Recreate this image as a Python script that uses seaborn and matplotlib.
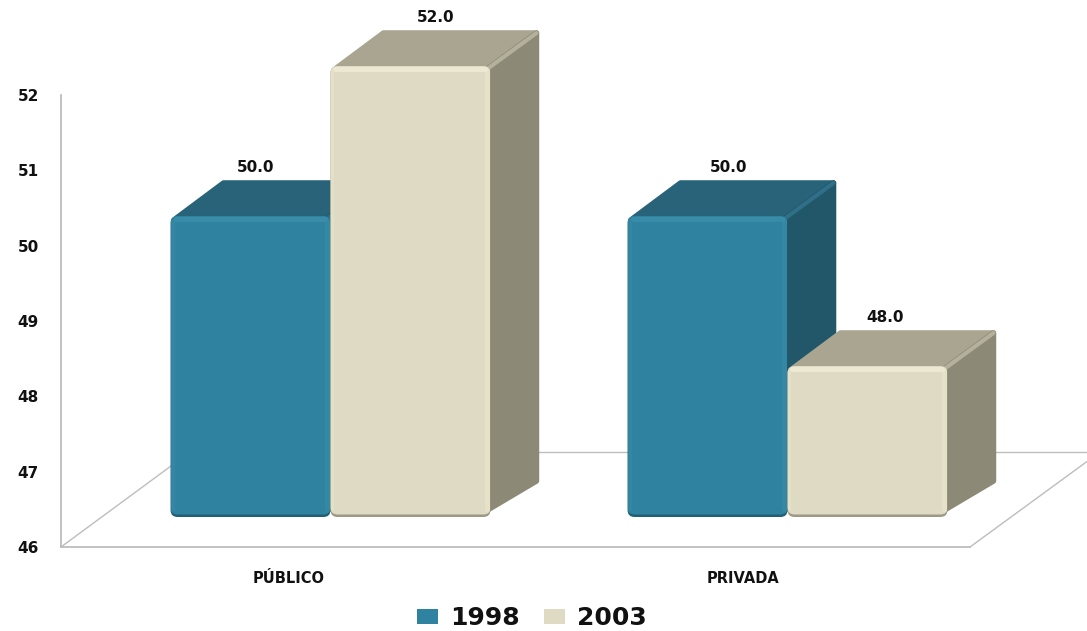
import pandas as pd
import matplotlib
matplotlib.use("Agg")
import matplotlib.pyplot as plt
import seaborn as sns
from matplotlib.patches import Polygon, FancyBboxPatch
from matplotlib.lines import Line2D
from matplotlib.transforms import IdentityTransform

# Values
categories = ["PÚBLICO", "PRIVADA"]
years = ["1998", "2003"]
values_1998 = [50.0, 50.0]
values_2003 = [52.0, 48.0]
y_ticks = [46, 47, 48, 49, 50, 51, 52]

W, H = 1087, 631
BASE = 46
DX, DY = 49, 36  # depth of the fake 3D boxes, in pixels

df = pd.DataFrame({
    "sector": categories * 2,
    "year": [years[0]] * 2 + [years[1]] * 2,
    "value": values_1998 + values_2003,
})

sns.set_theme(style="white")
plt.rcParams["font.family"] = ["DejaVu Sans"]

fig = plt.figure(figsize=(W / 100, H / 100), dpi=100, facecolor="white")


def box(x0, y_top, x1, y_bottom):
    return [x0 / W, 1 - y_bottom / H, (x1 - x0) / W, (y_bottom - y_top) / H]


# Back axes: the wall line, floor line and tick labels
wall = fig.add_axes(box(61, 95, 970, 547))
wall.set_xlim(-0.5, 1.5)
wall.set_ylim(46, 52)
wall.set_yticks(y_ticks)
wall.set_xticks(range(len(categories)))
wall.set_xticklabels(categories, fontsize=10.5, fontweight="bold", color="#111111")
wall.set_yticklabels(y_ticks, fontsize=11, fontweight="bold", color="#111111")
wall.tick_params(axis="y", length=0, pad=16)
wall.tick_params(axis="x", length=0, pad=17)
sns.despine(ax=wall)
for side in ["left", "bottom"]:
    wall.spines[side].set_color("#b8b8b8")
    wall.spines[side].set_linewidth(1.2)
wall.set_facecolor("none")

# Floor lines going into the page
floor = [
    ([61, 190], [547, 452]),
    ([970, 1100], [547, 452]),
    ([190, 1087], [452, 452]),
]
for xs, ys in floor:
    fig.add_artist(Line2D([x / W for x in xs], [1 - y / H for y in ys],
                          color="#bdbdbd", lw=1.0, zorder=0.5))

# Front axes: the bars themselves
ax = fig.add_axes([0, 0, 1, 1], zorder=2)
ax.set_facecolor("none")
sns.barplot(data=df, x="sector", y="value", hue="year", order=categories,
            hue_order=years, palette=["#2f83a0", "#dfdac3"], width=0.7, gap=0,
            saturation=1, ax=ax, edgecolor="none", linewidth=0)
ax.set_xlim(-330.5 / 457, (W - 330.5) / 457)
ax.set_ylim(BASE - (H - 516) / 75, BASE + 516 / 75)
ax.set_xlabel("")
ax.set_ylabel("")
for s in ax.spines.values():
    s.set_visible(False)
ax.set_xticks([])
ax.set_yticks([])

styles = {
    "teal": dict(top="#28637a", side="#225669", rim="#3a8eaa", edge="#378aa5",
                 low="#205f75", ridge="#2f7088"),
    "sand": dict(top="#a9a590", side="#8c8977", rim="#eeead4", edge="#e9e5cd",
                 low="#9e9986", ridge="#b4b09b"),
}
label_dx = [5, 25, 21, 18]
INSET = 3  # polygons are drawn inset with a thick round stroke to soften corners

bars = sorted([p for p in ax.patches if p.get_width() > 0], key=lambda p: p.get_x())
for i, bar in enumerate(bars):
    value = bar.get_height()
    bar.set_y(BASE)
    bar.set_height(value - BASE)
    bb = bar.get_window_extent()
    x0, x1, y0, y1 = bb.x0, bb.x1, bb.y0, bb.y1
    st = styles["teal"] if i % 2 == 0 else styles["sand"]
    z = 3 + i * 2
    bar.set_zorder(z + 1)

    top_face = [(x0 + 6, y1 - 2), (x0 + DX + 4, y1 + DY - INSET),
                (x1 + DX - INSET, y1 + DY - INSET), (x1 - 2, y1 - 2)]
    side_face = [(x1 - 2, y1 - 2), (x1 + DX - INSET, y1 + DY - INSET),
                 (x1 + DX - INSET, y0 + DY - 1), (x1 - 8, y0 + 3)]
    for pts, col in [(top_face, st["top"]), (side_face, st["side"])]:
        ax.add_patch(Polygon(pts, closed=True, fc=col, ec=col, lw=4,
                             joinstyle="round", transform=IdentityTransform(),
                             clip_on=False, zorder=z))
    ax.add_line(Line2D([x1 - 2, x1 + DX - 3], [y1 - 2, y1 + DY - 3], color=st["ridge"],
                       lw=3, transform=IdentityTransform(), solid_capstyle="round",
                       clip_on=False, zorder=z + 0.2))

    # rounded front face with a soft bevel
    rounded = dict(boxstyle="round,pad=0,rounding_size=7", transform=IdentityTransform())
    ax.add_patch(FancyBboxPatch((x0, y0 - 1), x1 - x0, y1 - y0 + 1, fc=st["low"], ec="none",
                                clip_on=False, zorder=z + 0.5, **rounded))
    outline = FancyBboxPatch((x0, y0 + 1.5), x1 - x0, y1 - y0 - 1.5, fc="none", ec="none",
                             **rounded)
    ax.add_patch(outline)
    bar.set_clip_path(outline)
    for xs, ys, col, lw, alpha in [
        ([x1 - 3, x1 - 3], [y0 + 7, y1 - 5], st["edge"], 5, 0.8),
        ([x0 + 2, x0 + 2], [y0 + 7, y1 - 5], st["edge"], 3, 0.6),
        ([x0 + 5, x1 - 5], [y1 - 3, y1 - 3], st["rim"], 5, 0.9),
    ]:
        ax.add_line(Line2D(xs, ys, color=col, lw=lw * 0.72, alpha=alpha,
                           transform=IdentityTransform(), solid_capstyle="round",
                           clip_on=False, zorder=z + 1.5))

    ax.annotate(f"{value:.1f}", xy=(bar.get_x() + bar.get_width() / 2, value),
                xytext=(label_dx[i], 49), textcoords="offset pixels", ha="center",
                va="center", fontsize=11, fontweight="bold", color="#111111",
                annotation_clip=False, zorder=30)

sns.move_legend(ax, "center", bbox_to_anchor=(532 / W, 1 - 618 / H), ncol=2,
                frameon=False, title=None, prop=dict(size=18, weight="bold"),
                handlelength=0.84, handleheight=0.56, handletextpad=0.48,
                columnspacing=0.95, borderpad=0, borderaxespad=0)
leg = ax.get_legend()
leg.set_zorder(40)
for t in leg.get_texts():
    t.set_color("#111111")

fig.savefig("out.png", dpi=100, facecolor="white")
